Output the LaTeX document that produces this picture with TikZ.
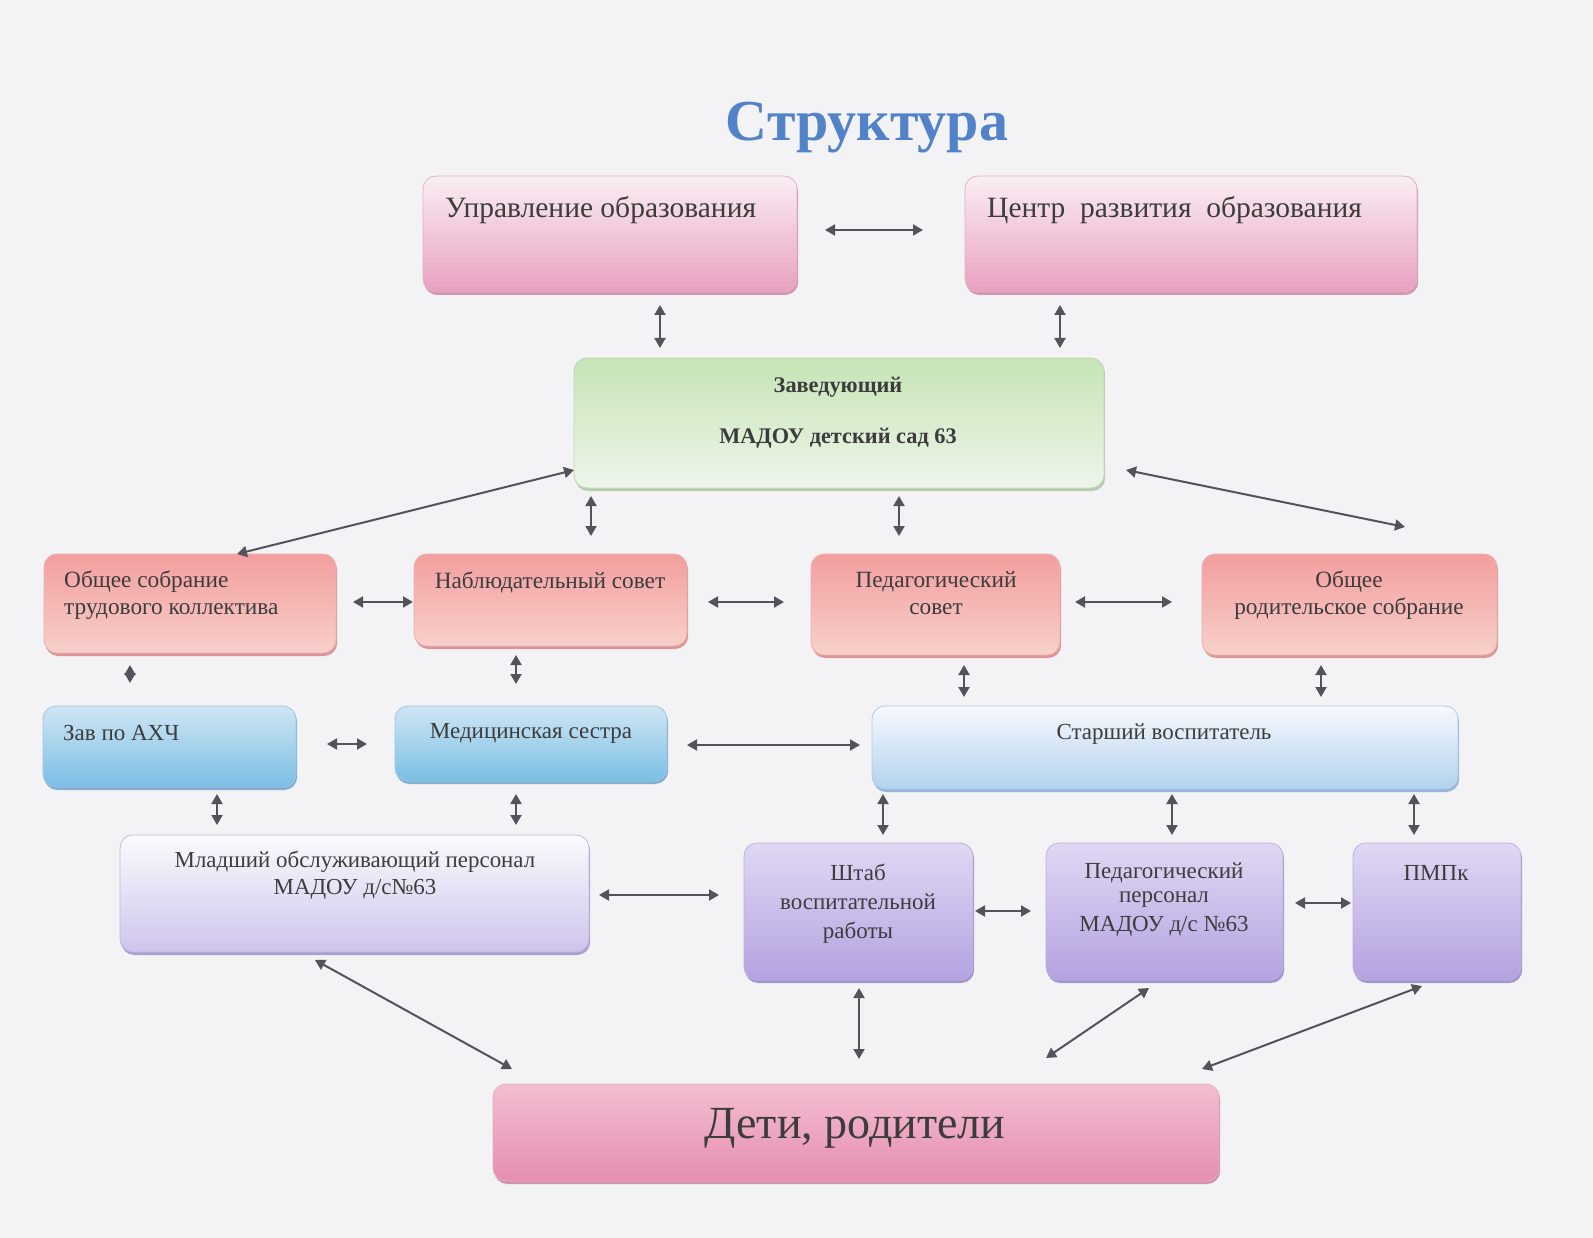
\documentclass[tikz,border=0pt]{standalone}
\usepackage{fontspec}
\setmainfont{Liberation Serif}
\usetikzlibrary{arrows.meta,shadows,calc}
\definecolor{bg}{RGB}{243,243,245}
\definecolor{txtc}{RGB}{60,60,60}
\definecolor{arrc}{RGB}{85,82,92}
\definecolor{titlec}{RGB}{82,130,200}
\definecolor{pinkT}{RGB}{250,238,244}
\definecolor{pinkB}{RGB}{232,160,192}
\definecolor{pinkE}{RGB}{195,100,140}
\definecolor{greenT}{RGB}{198,228,182}
\definecolor{greenB}{RGB}{238,245,234}
\definecolor{greenE}{RGB}{150,185,140}
\definecolor{salT}{RGB}{242,158,158}
\definecolor{salB}{RGB}{248,208,203}
\definecolor{salE}{RGB}{210,100,100}
\definecolor{bluT}{RGB}{208,230,244}
\definecolor{bluB}{RGB}{122,190,228}
\definecolor{bluE}{RGB}{70,140,195}
\definecolor{sbT}{RGB}{247,249,253}
\definecolor{sbB}{RGB}{178,210,238}
\definecolor{sbE}{RGB}{100,150,205}
\definecolor{lavT}{RGB}{251,251,253}
\definecolor{lavB}{RGB}{206,196,236}
\definecolor{lavE}{RGB}{130,115,190}
\definecolor{purT}{RGB}{224,216,244}
\definecolor{purB}{RGB}{180,162,224}
\definecolor{purE}{RGB}{120,100,185}
\definecolor{drT}{RGB}{243,190,210}
\definecolor{drB}{RGB}{230,142,176}
\definecolor{drE}{RGB}{195,95,135}
\tikzset{
  box/.style={rounded corners=13pt, inner sep=0pt, outer sep=0pt, anchor=north west, line width=0.8pt},
  sh/.style={drop shadow={shadow xshift=1.2pt, shadow yshift=-3pt, opacity=0.65, fill=#1}},
  pinkbox/.style={box, draw=pinkE!50, top color=pinkT, bottom color=pinkB, sh=pinkE},
  greenbox/.style={box, draw=greenE!60, top color=greenT, bottom color=greenB, sh=greenE},
  salbox/.style={box, draw=salE!50, top color=salT, bottom color=salB, sh=salE},
  blubox/.style={box, draw=bluE!50, top color=bluT, bottom color=bluB, sh=bluE},
  sbbox/.style={box, draw=sbE!50, top color=sbT, bottom color=sbB, sh=sbE},
  lavbox/.style={box, draw=lavE!50, top color=lavT, bottom color=lavB, sh=lavE},
  purbox/.style={box, draw=purE!50, top color=purT, bottom color=purB, sh=purE},
  drbox/.style={box, draw=drE!50, top color=drT, bottom color=drB, sh=drE},
  arr/.style={{Triangle[length=10pt,width=11pt]}-{Triangle[length=10pt,width=11pt]}, line width=2pt, draw=arrc, fill=arrc},
  lbl/.style={text=txtc, inner sep=0pt, align=center},
  fs/.style={font=\fontsize{#1}{#1}\selectfont},
  fsb/.style={font=\fontsize{#1}{#1}\selectfont\bfseries}
}
\begin{document}
\begin{tikzpicture}[x=1pt,y=-1pt]
\fill[bg] (0,0) rectangle (1593,1238);
\useasboundingbox (0,0) rectangle (1593,1238);

% title
\node[text=titlec, inner sep=0pt, fsb=58] (title) at (867,128) {Структура};

% boxes
\node[pinkbox, minimum width=374pt, minimum height=116pt] (uo) at (423,176) {};
\node[pinkbox, minimum width=452pt, minimum height=116pt] (crc) at (965,176) {};
\node[greenbox, minimum width=530pt, minimum height=130pt] (zav) at (574,358) {};
\node[salbox, minimum width=292pt, minimum height=99pt] (osk) at (44,554) {};
\node[salbox, minimum width=273pt, minimum height=92pt] (ns) at (414,554) {};
\node[salbox, minimum width=249pt, minimum height=101pt] (ps) at (811,554) {};
\node[salbox, minimum width=295pt, minimum height=101pt] (ors) at (1202,554) {};
\node[blubox, minimum width=253pt, minimum height=81pt] (axc) at (43,706) {};
\node[blubox, minimum width=272pt, minimum height=75pt] (med) at (395,706) {};
\node[sbbox, minimum width=586pt, minimum height=83pt] (sv) at (872,706) {};
\node[lavbox, minimum width=469pt, minimum height=117pt] (mop) at (120,835) {};
\node[purbox, minimum width=229pt, minimum height=137pt] (shtab) at (744,843) {};
\node[purbox, minimum width=237pt, minimum height=137pt] (pp) at (1046,843) {};
\node[purbox, minimum width=168pt, minimum height=137pt] (pmpk) at (1353,843) {};
\node[drbox, minimum width=726pt, minimum height=97pt] (dr) at (493,1084) {};

% texts
\node[lbl, fs=29.5, anchor=west] (uo-t) at (445,210) {Управление образования};
\node[lbl, fs=29.5, anchor=west] (crc-t) at (987,210) {Центр\ \ развития\ \ образования};
\node[lbl, fsb=22.3] (zav-t1) at (838,387) {Заведующий};
\node[lbl, fsb=22.3] (zav-t2) at (838,438) {МАДОУ детский сад 63};
\node[lbl, fs=23.3, anchor=west, align=left] (osk-t1) at (64,582) {Общее собрание};
\node[lbl, fs=23.3, anchor=west, align=left] (osk-t2) at (64,612) {трудового коллектива};
\node[lbl, fs=23.3] (ns-t) at (550,582) {Наблюдательный совет};
\node[lbl, fs=23.3] (ps-t1) at (936,582) {Педагогический};
\node[lbl, fs=23.3] (ps-t2) at (936,609) {совет};
\node[lbl, fs=23.3] (ors-t1) at (1349,582) {Общее};
\node[lbl, fs=23.3] (ors-t2) at (1349,609) {родительское собрание};
\node[lbl, fs=23, anchor=west] (axc-t) at (63,733) {Зав по АХЧ};
\node[lbl, fs=23] (med-t) at (531,733) {Медицинская сестра};
\node[lbl, fs=23] (sv-t) at (1164,734) {Старший воспитатель};
\node[lbl, fs=22.9] (mop-t1) at (355,862) {Младший обслуживающий персонал};
\node[lbl, fs=22.9] (mop-t2) at (355,889) {МАДОУ д/с№63};
\node[lbl, fs=23] (shtab-t1) at (858,872) {Штаб};
\node[lbl, fs=23] (shtab-t2) at (858,902) {воспитательной};
\node[lbl, fs=23] (shtab-t3) at (858,933) {работы};
\node[lbl, fs=23] (pp-t1) at (1164,873) {Педагогический};
\node[lbl, fs=23] (pp-t2) at (1164,900) {персонал};
\node[lbl, fs=23] (pp-t3) at (1164,926) {МАДОУ д/с №63};
\node[lbl, fs=23] (pmpk-t) at (1436,873) {ПМПк};
\node[lbl, fs=46] (dr-t) at (855,1128) {Дети, родители};

% connectors
\draw[arr, shorten <=28pt, shorten >=42pt] ([yshift=4pt]uo.east) -- ([yshift=4pt]crc.west);
\draw[arr, shorten <=13pt, shorten >=10pt] ([xshift=50pt]uo.south) -- ([xshift=-179pt]zav.north);
\draw[arr, shorten <=13pt, shorten >=10pt] ([xshift=-131pt]crc.south) -- ([xshift=221pt]zav.north);
\draw[arr] ([yshift=18pt]zav.south west) -- ([xshift=193pt]osk.north west);
\draw[arr] ([xshift=22pt,yshift=18pt]zav.south east) -- ([xshift=203pt,yshift=27pt]ors.north west);
\draw[arr, shorten <=8pt, shorten >=18pt] ([xshift=-248pt]zav.south) -- ([xshift=40.5pt]ns.north);
\draw[arr, shorten <=8pt, shorten >=18pt] ([xshift=60pt]zav.south) -- ([xshift=-36.5pt]ps.north);
\draw[arr, shorten <=17pt, shorten >=1pt] ([yshift=1.5pt]osk.east) -- ([yshift=-2pt]ns.west);
\draw[arr, shorten <=21pt, shorten >=27pt] ([yshift=-2pt]ns.east) -- ([yshift=2.5pt]ps.west);
\draw[arr, shorten <=15pt, shorten >=30pt] ([yshift=2.5pt]ps.east) -- ([yshift=2.5pt]ors.west);
\draw[arr, shorten <=12pt, shorten >=23pt] ([xshift=-60pt]osk.south) -- ([xshift=-39.5pt]axc.north);
\draw[arr, shorten <=9pt, shorten >=22pt] ([xshift=-34.5pt]ns.south) -- ([xshift=-15pt]med.north);
\draw[arr, shorten <=10pt, shorten >=9pt] ([xshift=28.5pt]ps.south) -- ([xshift=-201pt]sv.north);
\draw[arr, shorten <=10pt, shorten >=9pt] ([xshift=-28.5pt]ors.south) -- ([xshift=156pt]sv.north);
\draw[arr, shorten <=31pt, shorten >=28pt] ([yshift=2.5pt]axc.east) -- ([yshift=-0.5pt]med.west);
\draw[arr, shorten <=20pt, shorten >=12pt] ([yshift=-1.5pt]med.east) -- ([yshift=2.5pt]sv.west);
\draw[arr, shorten <=7pt, shorten >=10pt] ([xshift=47.5pt]axc.south) -- ([xshift=-137.5pt]mop.north);
\draw[arr, shorten <=13pt, shorten >=10pt] ([xshift=-15pt]med.south) -- ([xshift=161.5pt]mop.north);
\draw[arr, shorten <=5pt, shorten >=8pt] ([xshift=-282pt]sv.south) -- ([xshift=24.5pt]shtab.north);
\draw[arr, shorten <=5pt, shorten >=8pt] ([xshift=7pt]sv.south) -- ([xshift=7.5pt]pp.north);
\draw[arr, shorten <=5pt, shorten >=8pt] ([xshift=249pt]sv.south) -- ([xshift=-23pt]pmpk.north);
\draw[arr, shorten <=10pt, shorten >=25pt] ([yshift=-1.5pt]mop.east) -- ([yshift=16.5pt]shtab.west);
\draw[arr, shorten <=2pt, shorten >=15pt] ([yshift=0.5pt]shtab.east) -- ([yshift=0.5pt]pp.west);
\draw[arr, shorten <=12pt, shorten >=2pt] ([yshift=8.5pt]pp.east) -- ([yshift=8.5pt]pmpk.west);
\draw[arr] ([xshift=-39.5pt,yshift=-8pt]mop.south) -- ([xshift=19pt,yshift=15pt]dr.north west);
\draw[arr, shorten <=8pt, shorten >=25pt] ([xshift=0.5pt]shtab.south) -- ([xshift=3pt]dr.north);
\draw[arr] ([xshift=-15.5pt,yshift=-8pt]pp.south) -- ([xshift=190pt,yshift=26pt]dr.north);
\draw[arr] ([xshift=-15pt,yshift=-6pt]pmpk.south) -- ([xshift=-17pt,yshift=15pt]dr.north east);
\end{tikzpicture}
\end{document}
